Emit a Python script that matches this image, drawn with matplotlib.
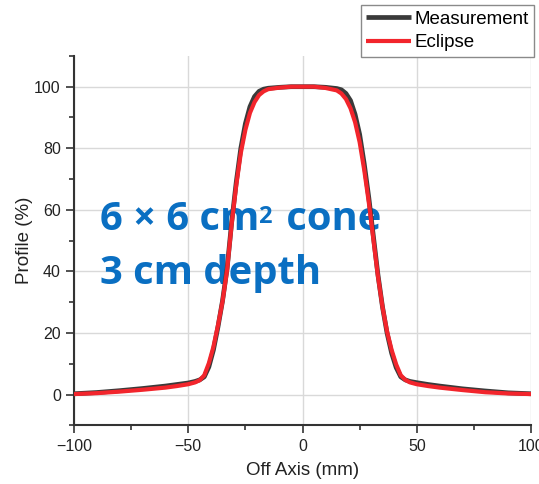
import matplotlib
matplotlib.use("Agg")
from matplotlib import pyplot as plt
from matplotlib.ticker import MultipleLocator
from matplotlib.transforms import offset_copy

# off-axis position (mm)
x_mm = [-100, -90, -80, -70, -60, -55, -50, -47, -45, -43, -41, -39, -37, -35,
        -33, -31, -29, -27, -25, -23, -21, -19, -17, -15, -10, -5, 0,
        5, 10, 15, 17, 19, 21, 23, 25, 27, 29, 31, 33, 35, 37, 39, 41, 43,
        45, 47, 50, 55, 60, 70, 80, 90, 100]

# measured profile (%)
measurement = [0.3, 0.7, 1.3, 2.0, 2.8, 3.3, 3.8, 4.3, 4.8, 5.8, 9.0, 14.5, 22.0, 30.5,
               41.0, 56.0, 69.0, 80.0, 88.0, 93.5, 96.8, 98.5, 99.2, 99.5, 99.8, 100.0, 100.0,
               100.0, 99.8, 99.4, 99.0, 97.8, 95.5, 91.0, 84.5, 75.0, 64.0, 51.5, 39.0, 28.5, 20.0, 13.5, 8.8, 5.8,
               4.8, 4.3, 3.9, 3.3, 2.8, 1.9, 1.2, 0.6, 0.3]

# Eclipse calculated profile (%)
eclipse = [0.2, 0.5, 1.0, 1.6, 2.3, 2.8, 3.4, 4.0, 4.7, 6.3, 10.2, 15.5, 22.5, 30.3,
           40.5, 55.5, 68.0, 78.5, 86.0, 91.5, 95.0, 97.3, 98.5, 99.2, 99.7, 100.0, 100.0,
           100.0, 99.6, 98.8, 97.8, 96.0, 93.0, 88.5, 82.0, 73.0, 62.5, 50.5, 38.5, 28.5, 20.5, 14.5, 9.8, 6.3,
           4.8, 4.0, 3.4, 2.8, 2.3, 1.5, 0.8, 0.4, 0.2]

fig = plt.figure(figsize=(5.39, 4.84), dpi=100)
ax = fig.add_axes([0.1373, 0.1209, 0.9852 - 0.1373, 0.8845 - 0.1209])

ax.plot(x_mm, measurement, color='#3a3a3a', lw=3.4, label='Measurement', zorder=3, solid_capstyle='butt')
ax.plot(x_mm, eclipse, color='#f2252c', lw=3.0, label='Eclipse', zorder=4, solid_capstyle='butt')

ax.set_xlim(-100, 100)
ax.set_ylim(-10, 110)
ax.xaxis.set_major_locator(MultipleLocator(50))
ax.xaxis.set_minor_locator(MultipleLocator(25))
ax.yaxis.set_major_locator(MultipleLocator(20))
ax.yaxis.set_minor_locator(MultipleLocator(10))
ax.grid(True, which='major', color='#d9d9d9', lw=1.0)
ax.set_axisbelow(True)

for side in ['top', 'right']:
    ax.spines[side].set_visible(False)
for side in ['left', 'bottom']:
    ax.spines[side].set_color('#333333')
    ax.spines[side].set_linewidth(1.5)

ax.tick_params(which='major', direction='out', length=6, width=1.2, color='#333333',
               labelsize=11.5, labelcolor='#222222')
ax.tick_params(which='minor', direction='out', length=3.5, width=1.2, color='#333333')
for lab in ax.get_xticklabels() + ax.get_yticklabels():
    lab.set_fontfamily('Liberation Sans')

ax.set_xlabel('Off Axis (mm)', fontsize=13.5, family='Liberation Sans', color='#222222', labelpad=6)
ax.set_ylabel('Profile (%)', fontsize=13.5, family='Liberation Sans', color='#222222', labelpad=1)

# annotation text, drawn in pieces so the superscript can be sized like the original
blue = '#0a6fc2'
big = dict(fontsize=28.8, fontweight='bold', family='Open Sans', color=blue,
           va='baseline', ha='left', zorder=2)
x_txt = -88.5
t1 = ax.text(x_txt, 53.6, '6 × 6 cm', **big)
ax.text(x_txt, 35.8, '3 cm depth', **big)
fig.canvas.draw()
w1 = t1.get_window_extent().width
sup_tr = offset_copy(ax.transData, fig=fig, x=w1 - 2, y=7, units='dots')
t2 = ax.text(x_txt, 53.6, '2', transform=sup_tr, fontsize=17, fontweight='bold',
             family='Open Sans', color=blue, va='baseline', ha='left', zorder=2)
fig.canvas.draw()
w2 = t2.get_window_extent().width
rest_tr = offset_copy(ax.transData, fig=fig, x=w1 + w2 + 3, y=0, units='dots')
ax.text(x_txt, 53.6, ' cone', transform=rest_tr, **big)

leg = fig.legend(loc='upper right', bbox_to_anchor=(534 / 539, 1 - 5 / 484),
                 bbox_transform=fig.transFigure, fancybox=False, framealpha=1,
                 edgecolor='#8a8a8a', prop={'family': 'Liberation Sans', 'size': 13.5},
                 handlelength=2.4, handletextpad=0.15, borderpad=0.3, labelspacing=0.35,
                 borderaxespad=0)
leg.get_frame().set_linewidth(1.0)

fig.savefig('out.png', dpi=100)
